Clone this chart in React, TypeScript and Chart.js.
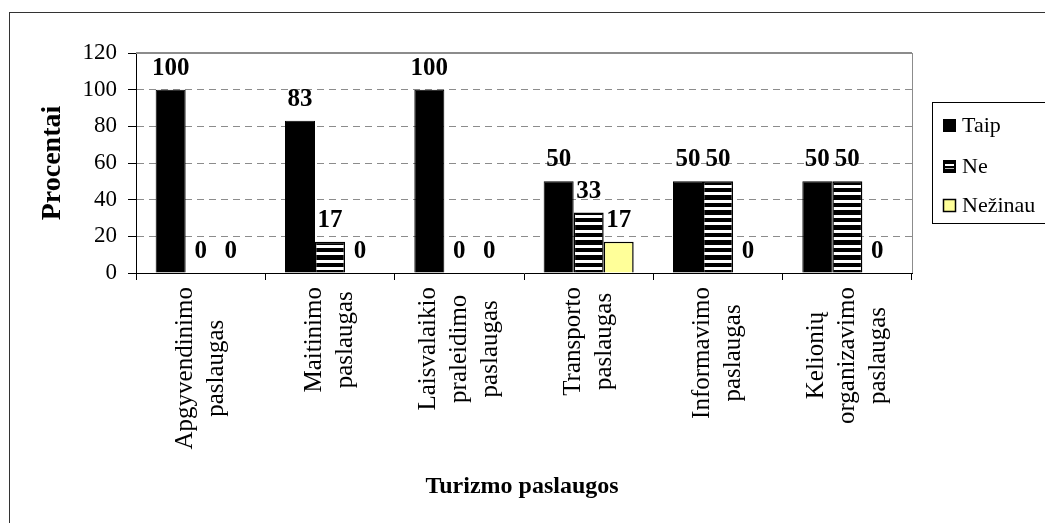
import React, { useEffect, useRef } from "react";
import { Chart, registerables } from "chart.js";

Chart.register(...registerables);

const categories: string[][] = [
  ["Apgyvendinimo", "paslaugas"],
  ["Maitinimo", "paslaugas"],
  ["Laisvalaikio", "praleidimo", "paslaugas"],
  ["Transporto", "paslaugas"],
  ["Informavimo", "paslaugas"],
  ["Kelionių", "organizavimo", "paslaugas"],
];
const taip = [100, 83, 100, 50, 50, 50];
const ne = [0, 17, 0, 33, 50, 50];
const nezinau = [0, 0, 0, 17, 0, 0];
const seriesNames = ["Taip", "Ne", "Nežinau"];
const yTicks = [0, 20, 40, 60, 80, 100, 120];
const yTitle = "Procentai";
const xTitle = "Turizmo paslaugos";

const SERIF = "'Liberation Serif', 'Times New Roman', serif";
const YELLOW = "#FFFF99";

function makeStripePattern(): CanvasPattern | string {
  const tile = document.createElement("canvas");
  tile.width = 4;
  tile.height = 15;
  const t = tile.getContext("2d");
  if (!t) return "#000";
  t.fillStyle = "#000";
  t.fillRect(0, 0, 4, 15);
  t.fillStyle = "#fff";
  t.fillRect(0, 5, 4, 3);
  t.fillRect(0, 12, 4, 3);
  const ctx = document.createElement("canvas").getContext("2d");
  const p = ctx ? ctx.createPattern(tile, "repeat") : null;
  return p || "#000";
}

export default function App() {
  const ref = useRef<HTMLCanvasElement | null>(null);

  useEffect(() => {
    const canvas = ref.current;
    if (!canvas) return;
    const stripes = makeStripePattern();

    const decorations = {
      id: "decorations",
      afterDatasetsDraw(chart: any) {
        const ctx = chart.ctx as CanvasRenderingContext2D;
        ctx.save();
        ctx.fillStyle = "#000";
        ctx.font = `bold 25px ${SERIF}`;
        ctx.textAlign = "center";
        ctx.textBaseline = "alphabetic";
        chart.data.datasets.forEach((ds: any, di: number) => {
          const meta = chart.getDatasetMeta(di);
          meta.data.forEach((el: any, i: number) => {
            ctx.fillText(String(ds.data[i]), el.x, el.y - 15);
          });
        });
        ctx.restore();
      },
      afterDraw(chart: any) {
        const ctx = chart.ctx as CanvasRenderingContext2D;
        const area = chart.chartArea;
        const xScale = chart.scales.x;
        ctx.save();
        // plot area top / right border
        ctx.strokeStyle = "#8c8c8c";
        ctx.lineWidth = 2;
        ctx.beginPath();
        ctx.moveTo(area.left, area.top);
        ctx.lineTo(area.right, area.top);
        ctx.stroke();
        ctx.lineWidth = 1;
        ctx.beginPath();
        ctx.moveTo(area.right + 0.5, area.top);
        ctx.lineTo(area.right + 0.5, area.bottom);
        ctx.stroke();

        // outer frame
        ctx.strokeStyle = "#333";
        ctx.lineWidth = 1;
        ctx.strokeRect(9.5, 12.5, 1200, 700);

        // category labels (rotated, centered lines)
        ctx.fillStyle = "#000";
        ctx.font = `25px ${SERIF}`;
        ctx.textAlign = "center";
        ctx.textBaseline = "middle";
        const lh = 31;
        categories.forEach((lines, i) => {
          const cx = xScale.getPixelForValue(i);
          const maxW = Math.max(...lines.map((l) => ctx.measureText(l).width));
          const yMid = area.bottom + 14 + maxW / 2;
          lines.forEach((line, k) => {
            const x = cx + (k - (lines.length - 1) / 2) * lh;
            ctx.save();
            ctx.translate(x, yMid);
            ctx.rotate(-Math.PI / 2);
            ctx.fillText(line, 0, 0);
            ctx.restore();
          });
        });

        // axis titles
        ctx.font = `bold 28px ${SERIF}`;
        ctx.save();
        ctx.translate(53, (area.top + area.bottom) / 2);
        ctx.rotate(-Math.PI / 2);
        ctx.textAlign = "center";
        ctx.textBaseline = "middle";
        ctx.fillText(yTitle, 0, 0);
        ctx.restore();

        ctx.font = `bold 24px ${SERIF}`;
        ctx.textAlign = "center";
        ctx.textBaseline = "alphabetic";
        ctx.fillText(xTitle, 522, 493);

        // legend
        ctx.strokeStyle = "#000";
        ctx.lineWidth = 1;
        ctx.strokeRect(932.5, 102.5, 150, 121);
        const rows = [125, 166.5, 205.5];
        ctx.font = `22px ${SERIF}`;
        ctx.textAlign = "left";
        ctx.textBaseline = "middle";
        seriesNames.forEach((name, i) => {
          const cy = rows[i];
          const sx = 943;
          const sy = Math.round(cy - 6.5);
          if (i === 0) {
            ctx.fillStyle = "#000";
            ctx.fillRect(sx, sy, 13, 13);
          } else if (i === 1) {
            ctx.fillStyle = "#000";
            ctx.fillRect(sx, sy, 13, 13);
            ctx.fillStyle = "#fff";
            ctx.fillRect(sx + 2, sy + 4, 9, 2);
            ctx.fillStyle = "#bbb";
            ctx.fillRect(sx + 2, sy + 8, 9, 1);
          } else {
            ctx.fillStyle = YELLOW;
            ctx.fillRect(sx, sy, 13, 13);
            ctx.strokeStyle = "#000";
            ctx.lineWidth = 1.5;
            ctx.strokeRect(sx + 0.5, sy + 0.5, 12, 12);
          }
          ctx.fillStyle = "#000";
          ctx.fillText(name, 962, cy + 1);
        });
        ctx.restore();
      },
    };

    const chart = new Chart(canvas, {
      type: "bar",
      data: {
        labels: categories.map((c) => c.join(" ")),
        datasets: [
          {
            label: seriesNames[0],
            data: taip,
            backgroundColor: "#000",
            borderColor: "#000",
            borderWidth: 1,
          },
          {
            label: seriesNames[1],
            data: ne,
            backgroundColor: stripes as any,
            borderColor: "#000",
            borderWidth: 1.5,
          },
          {
            label: seriesNames[2],
            data: nezinau,
            backgroundColor: YELLOW,
            borderColor: "#000",
            borderWidth: 1.5,
          },
        ],
      },
      options: {
        responsive: false,
        animation: false,
        devicePixelRatio: 1,
        layout: { padding: { left: 0, top: 53, right: 133, bottom: 0 } },
        datasets: {
          bar: { categoryPercentage: 0.696, barPercentage: 1 },
        },
        plugins: {
          legend: { display: false },
          title: { display: false },
          tooltip: { enabled: false },
        },
        scales: {
          x: {
            offset: true,
            grid: {
              offset: true,
              drawOnChartArea: false,
              drawTicks: true,
              tickLength: 7,
              tickColor: "#000",
              color: "#000",
            },
            border: { display: true, color: "#000", width: 1 },
            ticks: { display: false },
            afterFit: (scale: any) => {
              scale.height = 250;
            },
          },
          y: {
            min: 0,
            max: 120,
            afterBuildTicks: (scale: any) => {
              scale.ticks = yTicks.map((v) => ({ value: v }));
            },
            grid: {
              color: (c: any) =>
                c.tick && (c.tick.value === 0 || c.tick.value === 120)
                  ? "rgba(0,0,0,0)"
                  : "#8c8c8c",
              lineWidth: 1,
              tickLength: 8,
              tickColor: "#000",
              tickBorderDash: [],
            },
            border: { display: true, color: "#000", width: 1, dash: [7, 5] },
            ticks: {
              color: "#000",
              padding: 11,
              font: { family: SERIF, size: 23 },
            },
            afterFit: (scale: any) => {
              scale.width = 136;
            },
          },
        },
      },
      plugins: [decorations],
    } as any);

    return () => chart.destroy();
  }, []);

  return (
    <div style={{ position: "absolute", left: 0, top: 0, width: 1045, height: 523, background: "#fff" }}>
      <canvas ref={ref} width={1045} height={523} style={{ width: 1045, height: 523, display: "block" }} />
    </div>
  );
}
